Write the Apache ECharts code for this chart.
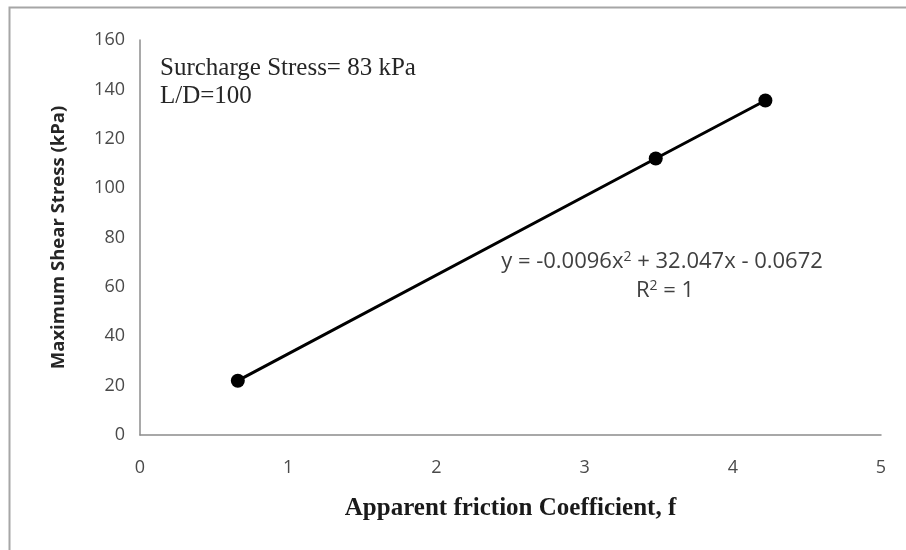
<!DOCTYPE html>
<html>
<head>
<meta charset="utf-8">
<style>
  html, body { margin: 0; padding: 0; background: #ffffff; }
  #chart { width: 906px; height: 550px; }
</style>
<script src="https://cdn.jsdelivr.net/npm/echarts@6/dist/echarts.min.js"></script>
</head>
<body>
<div id="chart"></div>
<script>
// Measured points: apparent friction coefficient f vs. maximum shear stress (kPa)
var frictionCoeff = [0.66, 3.48, 4.22];
var maxShearStress = [22, 112, 135.5];

var xTicks = { min: 0, max: 5, interval: 1 };
var yTicks = { min: 0, max: 160, interval: 20 };

var annotationLines = ['Surcharge Stress= 83 kPa', 'L/D=100'];
var trendEquation = 'y = -0.0096x{sup|2} + 32.047x - 0.0672';
var trendR2 = 'R{sup|2} = 1';

var points = frictionCoeff.map(function (f, i) { return [f, maxShearStress[i]]; });

var chart = echarts.init(document.getElementById('chart'), null, { renderer: 'canvas' });

var sansFont = '"Open Sans", "Noto Sans", sans-serif';
var serifFont = '"Liberation Serif", "DejaVu Serif", serif';

var supStyle = { fontSize: 14, fontFamily: sansFont, fill: '#404040', padding: [0, 0, 10, 0] };

chart.setOption({
  animation: false,
  backgroundColor: '#ffffff',
  grid: { left: 140, right: 25, top: 40, bottom: 115, containLabel: false },
  xAxis: {
    type: 'value',
    min: xTicks.min, max: xTicks.max, interval: xTicks.interval,
    name: 'Apparent friction Coefficient, f',
    nameLocation: 'middle',
    nameGap: 61,
    nameTextStyle: { fontFamily: serifFont, fontWeight: 'bold', fontSize: 25, color: '#1a1a1a' },
    axisLine: { show: true, lineStyle: { color: '#8c8c8c', width: 1.5 } },
    axisTick: { show: false },
    splitLine: { show: false },
    axisLabel: { margin: 24, fontFamily: sansFont, fontSize: 18, color: '#4a4a4a' }
  },
  yAxis: {
    type: 'value',
    min: yTicks.min, max: yTicks.max, interval: yTicks.interval,
    name: 'Maximum Shear Stress (kPa)',
    nameLocation: 'middle',
    nameGap: 72,
    nameTextStyle: { fontFamily: sansFont, fontWeight: 'bold', fontSize: 18.5, color: '#262626' },
    axisLine: { show: true, lineStyle: { color: '#8c8c8c', width: 1.5 } },
    axisTick: { show: false },
    splitLine: { show: false },
    axisLabel: { margin: 15, fontFamily: sansFont, fontSize: 18, color: '#4a4a4a' }
  },
  series: [{
    type: 'line',
    data: points,
    symbol: 'circle',
    symbolSize: 14,
    itemStyle: { color: '#000000' },
    lineStyle: { color: '#000000', width: 3 },
    z: 3
  }],
  graphic: [
    {
      type: 'rect',
      left: 7, top: 5,
      shape: { width: 920, height: 560 },
      style: { fill: 'none', stroke: '#a6a6a6', lineWidth: 2 },
      silent: true
    },
    {
      type: 'text',
      left: 160, top: 54,
      style: {
        text: annotationLines.join('\n'),
        fontFamily: serifFont,
        fontSize: 25,
        fill: '#262626',
        lineHeight: 28
      }
    },
    {
      type: 'text',
      x: 662, y: 262,
      style: {
        text: trendEquation,
        fontFamily: sansFont,
        fontSize: 22,
        fill: '#404040',
        align: 'center',
        verticalAlign: 'middle',
        rich: { sup: supStyle }
      }
    },
    {
      type: 'text',
      x: 665, y: 291,
      style: {
        text: trendR2,
        fontFamily: sansFont,
        fontSize: 22,
        fill: '#404040',
        align: 'center',
        verticalAlign: 'middle',
        rich: { sup: supStyle }
      }
    }
  ]
});
</script>
</body>
</html>
